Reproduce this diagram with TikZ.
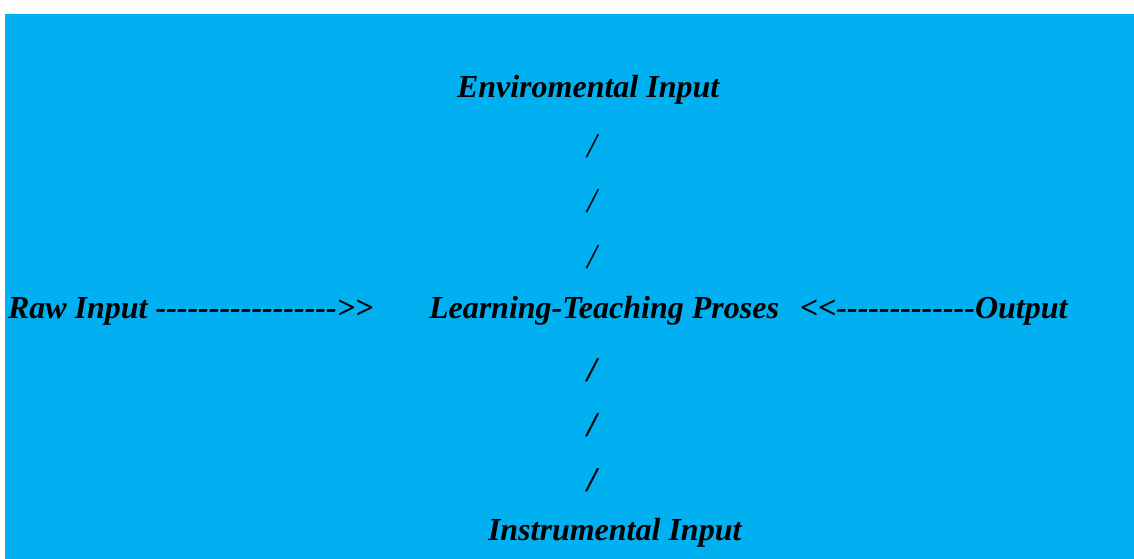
\documentclass[tikz,border=0pt]{standalone}
\usepackage{fontspec}
\setmainfont{Liberation Serif}[Ligatures=TeXOff]
\definecolor{bgblue}{RGB}{0,176,240}
\tikzset{
  lbl/.style={inner sep=0pt, outer sep=0pt, anchor=base west, font=\fontsize{24}{28}\selectfont\bfseries\itshape},
  thinslash/.style={inner sep=0pt, outer sep=0pt, anchor=base, font=\fontsize{26}{30}\selectfont\itshape},
  boldslash/.style={inner sep=0pt, outer sep=0pt, anchor=base, font=\fontsize{26}{30}\selectfont\bfseries\itshape}
}
\begin{document}
\begin{tikzpicture}[x=0.75pt,y=-0.75pt]
\useasboundingbox (0,0) rectangle (1134,559);
\fill[white] (0,0) rectangle (1134,559);
\fill[bgblue] (5,14) rectangle (1134,559);
\node[lbl] (env) at (457,98) {Enviromental Input};
\node[thinslash] (s1) at (592,158) {/};
\node[thinslash] (s2) at (592,213) {/};
\node[thinslash] (s3) at (592,269) {/};
\node[lbl] (raw) at (8,319) {Raw Input -----------------\textgreater\textgreater};
\node[lbl] (ltp) at (429,319) {Learning-Teaching Proses};
\node[lbl] (out) at (800,319) {\textless\textless-------------Output};
\node[boldslash] (s4) at (592,381) {/};
\node[boldslash] (s5) at (592,436) {/};
\node[boldslash] (s6) at (592,491) {/};
\node[lbl] (ins) at (488,540) {Instrumental Input};
\end{tikzpicture}
\end{document}
